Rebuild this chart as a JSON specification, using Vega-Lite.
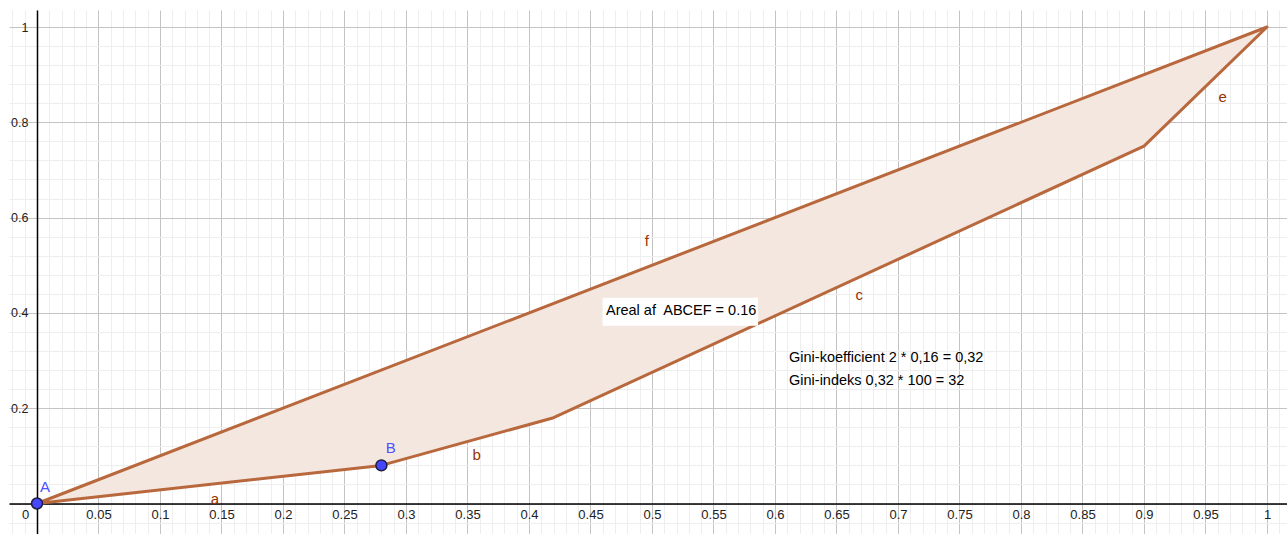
{
  "$schema": "https://vega.github.io/schema/vega-lite/v6.json",
  "width": 1278,
  "height": 524,
  "autosize": {"type": "none"},
  "padding": {"left": 9, "top": 10, "right": 0, "bottom": 0},
  "background": "white",
  "config": {
    "view": {"stroke": null},
    "font": "Liberation Sans",
    "axis": {"title": null}
  },
  "datasets": {
    "band": [
      {"x": 0, "y": 0, "y2": 0},
      {"x": 0.28, "y": 0.08, "y2": 0.28},
      {"x": 0.42, "y": 0.18, "y2": 0.42},
      {"x": 0.9, "y": 0.75, "y2": 0.9},
      {"x": 1, "y": 1, "y2": 1}
    ],
    "outline": [
      {"x": 0, "y": 0, "order": 0},
      {"x": 0.28, "y": 0.08, "order": 1},
      {"x": 0.42, "y": 0.18, "order": 2},
      {"x": 0.9, "y": 0.75, "order": 3},
      {"x": 1, "y": 1, "order": 4},
      {"x": 0, "y": 0, "order": 5}
    ],
    "points": [
      {"x": 0, "y": 0, "name": "A"},
      {"x": 0.28, "y": 0.08, "name": "B"}
    ],
    "labels": [
      {"x": 0.0065, "y": 0.0346, "label": "A", "kind": "point"},
      {"x": 0.2876, "y": 0.1158, "label": "B", "kind": "point"},
      {"x": 0.1447, "y": 0.0094, "label": "a", "kind": "segment"},
      {"x": 0.3575, "y": 0.1018, "label": "b", "kind": "segment"},
      {"x": 0.6685, "y": 0.4376, "label": "c", "kind": "segment"},
      {"x": 0.964, "y": 0.8537, "label": "e", "kind": "segment"},
      {"x": 0.4957, "y": 0.551, "label": "f", "kind": "segment"}
    ],
    "box": [
      {"x": 0.4598, "x2": 0.5862, "y": 0.4319, "y2": 0.3731}
    ],
    "notes": [
      {"x": 0.4626, "y": 0.403, "text": "Areal af\u00a0 ABCEF = 0.16"},
      {"x": 0.6114, "y": 0.3054, "text": "Gini-koefficient 2 * 0,16 = 0,32"},
      {"x": 0.6114, "y": 0.2571, "text": "Gini-indeks 0,32 * 100 = 32"}
    ]
  },
  "encoding": {
    "x": {
      "field": "x",
      "type": "quantitative",
      "scale": {"domain": [-0.02276, 1.01626], "nice": false, "zero": false},
      "axis": {
        "orient": "bottom",
        "offset": -30.5,
        "values": [-0.02, -0.01, 0, 0.01, 0.02, 0.03, 0.04, 0.05, 0.06, 0.07, 0.08, 0.09, 0.1, 0.11, 0.12, 0.13, 0.14, 0.15, 0.16, 0.17, 0.18, 0.19, 0.2, 0.21, 0.22, 0.23, 0.24, 0.25, 0.26, 0.27, 0.28, 0.29, 0.3, 0.31, 0.32, 0.33, 0.34, 0.35, 0.36, 0.37, 0.38, 0.39, 0.4, 0.41, 0.42, 0.43, 0.44, 0.45, 0.46, 0.47, 0.48, 0.49, 0.5, 0.51, 0.52, 0.53, 0.54, 0.55, 0.56, 0.57, 0.58, 0.59, 0.6, 0.61, 0.62, 0.63, 0.64, 0.65, 0.66, 0.67, 0.68, 0.69, 0.7, 0.71, 0.72, 0.73, 0.74, 0.75, 0.76, 0.77, 0.78, 0.79, 0.8, 0.81, 0.82, 0.83, 0.84, 0.85, 0.86, 0.87, 0.88, 0.89, 0.9, 0.91, 0.92, 0.93, 0.94, 0.95, 0.96, 0.97, 0.98, 0.99, 1, 1.01],
        "grid": true,
        "gridColor": {
          "condition": {"test": "abs(datum.value * 20 - round(datum.value * 20)) < 0.000001", "value": "#c4c4c4"},
          "value": "#eeeeee"
        },
        "gridWidth": 1,
        "ticks": false,
        "domainColor": "#000000",
        "domainWidth": 1.5,
        "labelExpr": "abs(datum.value * 20 - round(datum.value * 20)) < 0.000001 && datum.value >= 0 ? toString(round(datum.value * 100) / 100) : ''",
        "labelOffset": {"condition": {"test": "datum.value == 0", "value": -12}, "value": 0},
        "labelOverlap": false,
        "labelFlush": false,
        "labelBound": false,
        "labelPadding": 5,
        "labelFontSize": 13,
        "labelColor": "#222222",
        "labelBaseline": "top"
      }
    },
    "y": {
      "field": "y",
      "type": "quantitative",
      "scale": {"domain": [-0.064, 1.0357], "nice": false, "zero": false},
      "axis": {
        "orient": "left",
        "offset": -28,
        "values": [-0.04, 0, 0.04, 0.08, 0.12, 0.16, 0.2, 0.24, 0.28, 0.32, 0.36, 0.4, 0.44, 0.48, 0.52, 0.56, 0.6, 0.64, 0.68, 0.72, 0.76, 0.8, 0.84, 0.88, 0.92, 0.96, 1],
        "grid": true,
        "gridColor": {
          "condition": {"test": "abs(datum.value * 5 - round(datum.value * 5)) < 0.000001", "value": "#c4c4c4"},
          "value": "#eeeeee"
        },
        "gridWidth": 1,
        "ticks": false,
        "domainColor": "#000000",
        "domainWidth": 1.5,
        "labelExpr": "abs(datum.value * 5 - round(datum.value * 5)) < 0.000001 && datum.value > 0 ? toString(round(datum.value * 10) / 10) : ''",
        "labelOverlap": false,
        "labelFlush": false,
        "labelBound": false,
        "labelPadding": 9,
        "labelFontSize": 12.5,
        "labelColor": "#222222"
      }
    }
  },
  "layer": [
    {
      "data": {"name": "band"},
      "mark": {"type": "area", "color": "#f3e7e0", "opacity": 1},
      "encoding": {"y2": {"field": "y2"}}
    },
    {
      "data": {"name": "outline"},
      "mark": {"type": "line", "color": "#b8683c", "strokeWidth": 3, "strokeJoin": "round"},
      "encoding": {"order": {"field": "order", "type": "quantitative"}}
    },
    {
      "data": {"name": "box"},
      "mark": {"type": "rect", "fill": "white"},
      "encoding": {"x2": {"field": "x2"}, "y2": {"field": "y2"}}
    },
    {
      "data": {"name": "notes"},
      "mark": {"type": "text", "align": "left", "baseline": "middle", "fontSize": 14.5, "color": "#000000"},
      "encoding": {"text": {"field": "text"}}
    },
    {
      "data": {"name": "points"},
      "mark": {"type": "point", "filled": true, "fill": "#4646ff", "stroke": "#1e1e3c", "strokeWidth": 1.5, "opacity": 1, "size": 120}
    },
    {
      "data": {"name": "labels"},
      "mark": {"type": "text", "align": "center", "baseline": "middle", "fontSize": 15},
      "encoding": {
        "text": {"field": "label"},
        "color": {
          "field": "kind",
          "type": "nominal",
          "scale": {"domain": ["point", "segment"], "range": ["#5050ff", "#993300"]},
          "legend": null
        }
      }
    }
  ]
}
